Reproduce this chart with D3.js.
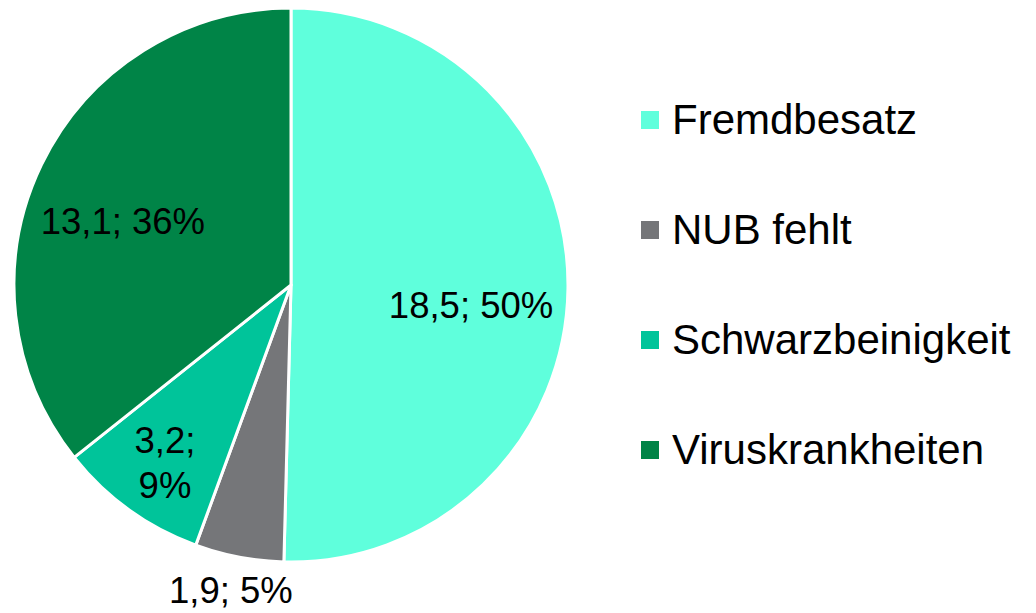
<!DOCTYPE html>
<html>
<head>
<meta charset="utf-8">
<script src="https://cdn.jsdelivr.net/npm/d3@7"></script>
<style>
  body { margin: 0; background: #fff; }
  text { font-family: "Liberation Sans", Arial, sans-serif; fill: #000; }
</style>
</head>
<body>
<script>
const width = 1036;
const height = 613;

const categories = ["Fremdbesatz", "NUB fehlt", "Schwarzbeinigkeit", "Viruskrankheiten"];
const values = [18.5, 1.9, 3.2, 13.1];
const percents = ["50%", "5%", "9%", "36%"];
const colors = ["#5fffdc", "#757679", "#00c49a", "#008447"];

const cx = 291, cy = 285, radius = 277;

const svg = d3.select("body")
  .append("svg")
  .attr("width", width)
  .attr("height", height);

const data = categories.map((c, i) => ({ name: c, value: values[i], pct: percents[i], color: colors[i] }));

const pie = d3.pie().value(d => d.value).sort(null);
const arcs = pie(data);

const arc = d3.arc().innerRadius(0).outerRadius(radius);

const g = svg.append("g").attr("transform", `translate(${cx},${cy})`);

g.selectAll("path.slice")
  .data(arcs)
  .enter()
  .append("path")
  .attr("class", "slice")
  .attr("d", arc)
  .attr("fill", d => d.data.color)
  .attr("stroke", "#fff")
  .attr("stroke-width", 3)
  .attr("stroke-linejoin", "round");

// label placement, relative to radius (Excel best-fit look)
const labelRadius = [0.65, 1.12, 0.79, 0.65];
const labelShift = [[0, 18], [-2, 0], [2, 0], [-6, 14]];
const fmt = v => String(v.toFixed(1)).replace(".", ",");

const labels = g.selectAll("g.label")
  .data(arcs)
  .enter()
  .append("g")
  .attr("class", "label")
  .attr("transform", (d, i) => {
    const a = (d.startAngle + d.endAngle) / 2;
    const r = radius * labelRadius[i];
    return `translate(${r * Math.sin(a) + labelShift[i][0]},${-r * Math.cos(a) + labelShift[i][1]})`;
  });

labels.each(function(d, i) {
  const sel = d3.select(this);
  const lines = i === 2
    ? [fmt(d.data.value) + ";", d.data.pct]
    : [fmt(d.data.value) + "; " + d.data.pct];
  const lh = 45;
  sel.selectAll("text")
    .data(lines)
    .enter()
    .append("text")
    .attr("text-anchor", "middle")
    .attr("font-size", 36.5)
    .attr("y", (t, k) => (k - (lines.length - 1) / 2) * lh + 13)
    .text(t => t);
});

// legend
const legend = svg.append("g").attr("transform", "translate(641,120)");
const rowH = 110;

const items = legend.selectAll("g.item")
  .data(data)
  .enter()
  .append("g")
  .attr("class", "item")
  .attr("transform", (d, i) => `translate(0,${i * rowH})`);

items.append("rect")
  .attr("x", 0)
  .attr("y", -9)
  .attr("width", 18)
  .attr("height", 18)
  .attr("fill", d => d.color);

items.append("text")
  .attr("x", 31)
  .attr("y", 14)
  .attr("font-size", 42)
  .text(d => d.name);
</script>
</body>
</html>
